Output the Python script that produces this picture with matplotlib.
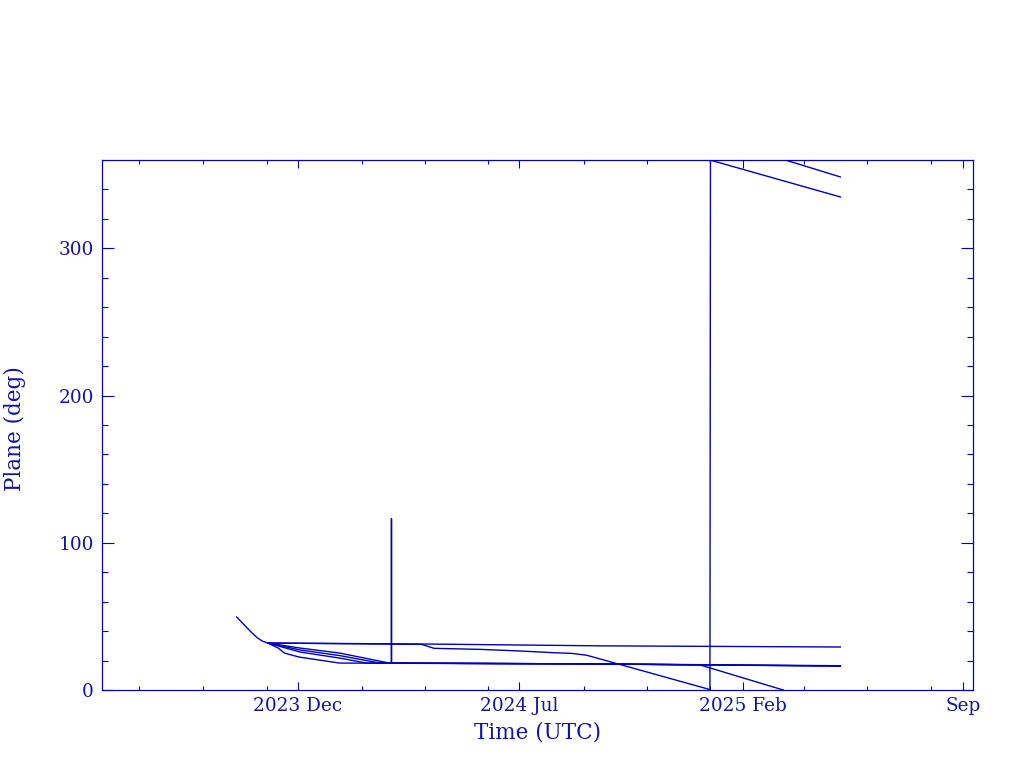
import matplotlib
matplotlib.use("Agg")
import matplotlib.pyplot as plt
import pandas as pd
import numpy as np

BLUE = "#0000c0"
TXT = "#1414a0"

# ---- data (orbital plane, degrees) ----
s1_dates = ["2023-10-03", "2023-10-08", "2023-10-13", "2023-10-18", "2023-10-23",
            "2023-10-28", "2023-11-02", "2024-04-06", "2024-09-17", "2025-05-06"]
s1_vals = [49.6, 45.9, 42.2, 38.6, 35.4, 33.1, 31.9, 31.2, 30.0, 29.2]

s2_dates = ["2023-11-02", "2023-12-03", "2024-01-10", "2024-02-27", "2024-09-17", "2025-05-06"]
s2_vals = [31.9, 28.5, 25.1, 18.3, 17.7, 16.3]

s3_dates = ["2023-11-02", "2023-12-03", "2024-01-10", "2024-02-18", "2024-02-29",
            "2024-02-29", "2024-02-29", "2024-09-17", "2025-05-06"]
s3_vals = [31.9, 27.2, 23.4, 18.3, 18.3, 116.2, 18.3, 17.7, 16.5]

s4_dates = ["2023-11-02", "2023-12-03", "2024-01-10", "2024-02-05", "2024-09-17",
            "2024-12-22", "2025-01-01", "2025-03-12"]
s4_vals = [31.9, 25.8, 21.7, 18.3, 17.7, 17.0, 14.9, 0.0]
s4b_dates = ["2025-03-14", "2025-05-06"]
s4b_vals = [360.0, 348.5]

s5_dates = ["2023-11-02", "2023-11-12", "2023-11-18", "2023-12-02", "2023-12-21",
            "2024-01-10", "2024-09-17", "2025-05-06"]
s5_vals = [31.9, 28.5, 25.1, 22.4, 20.4, 18.3, 17.7, 16.2]

s6_dates = ["2023-11-02", "2024-03-29", "2024-04-10", "2024-05-24", "2024-06-25",
            "2024-07-16", "2024-08-04", "2024-08-20", "2024-09-04",
            "2024-12-31 12:00", "2025-01-01 00:00", "2025-05-06"]
s6_vals = [31.9, 31.0, 28.3, 27.6, 26.7, 26.0, 25.3, 24.9, 23.6,
           0.3, 359.9, 334.9]

series = [(s1_dates, s1_vals), (s2_dates, s2_vals), (s3_dates, s3_vals),
          (s4_dates, s4_vals), (s4b_dates, s4b_vals), (s5_dates, s5_vals),
          (s6_dates, s6_vals)]

major_dates = ["2023-12-01", "2024-07-01", "2025-02-01", "2025-09-01"]
major_labels = ["2023 Dec", "2024 Jul", "2025 Feb", "Sep"]
minor_dates = ["2023-07-01", "2023-09-01", "2023-11-01", "2024-02-01", "2024-04-01",
               "2024-06-01", "2024-09-01", "2024-11-01", "2025-01-01", "2025-04-01",
               "2025-06-01", "2025-08-01"]
x_range = ["2023-05-26 10:00", "2025-09-10 16:00"]


def todt(lst):
    return pd.to_datetime(lst, format="mixed")


# ---- figure ----
fig = plt.figure(figsize=(10.24, 7.68), dpi=100)
ax = fig.add_axes([102 / 1024, 1 - 690 / 768, 871 / 1024, 530 / 768])

for d, v in series:
    ax.plot(todt(d), v, color=BLUE, lw=1.0)

ax.set_xlim(todt(x_range)[0], todt(x_range)[1])
ax.set_ylim(0, 360)

ax.set_xticks(todt(major_dates))
ax.set_xticklabels(major_labels)
ax.set_xticks(todt(minor_dates), minor=True)
ax.set_yticks([0, 100, 200, 300])
ax.set_yticks(np.arange(20, 360, 20), minor=True)

font = "DejaVu Serif"
for lab in ax.get_xticklabels() + ax.get_yticklabels():
    lab.set_family(font)
    lab.set_fontsize(13.3)
    lab.set_color(TXT)

ax.tick_params(axis="both", which="both", direction="in", top=True, right=True,
               color=BLUE, width=0.8)
ax.tick_params(axis="x", which="major", length=6.0, pad=5)
ax.tick_params(axis="x", which="minor", length=3.0)
ax.tick_params(axis="y", which="major", length=8.8, pad=6)
ax.tick_params(axis="y", which="minor", length=4.6)

for sp in ax.spines.values():
    sp.set_color(BLUE)
    sp.set_linewidth(0.9)

ax.set_xlabel("Time (UTC)", family=font, fontsize=15.5, color=TXT)
ax.set_ylabel("Plane (deg)", family=font, fontsize=15.5, color=TXT)
ax.xaxis.label.set_va("center")
ax.yaxis.label.set_va("center")
ax.xaxis.set_label_coords(0.5, -42 / 530)
ax.yaxis.set_label_coords(-87 / 871, 0.494)

fig.savefig("out.png", dpi=100)
